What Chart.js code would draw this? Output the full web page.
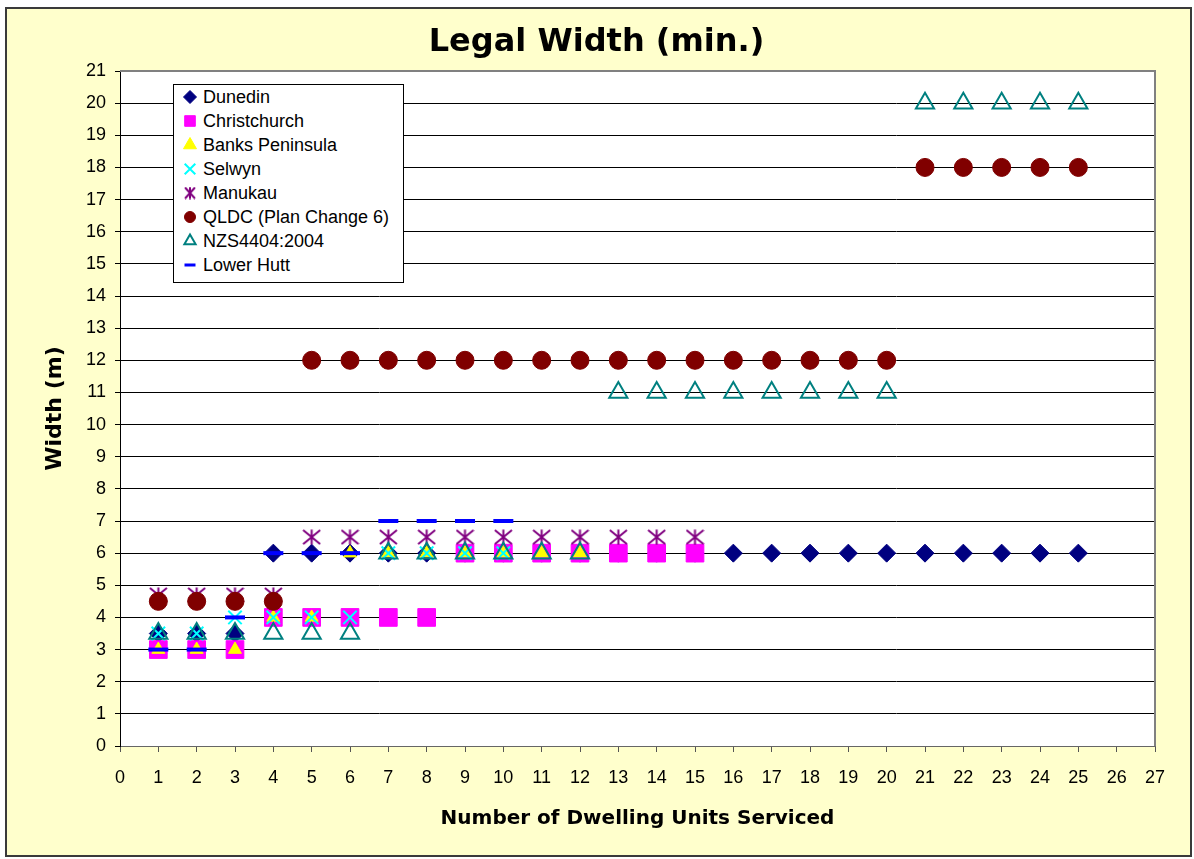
<!DOCTYPE html>
<html>
<head>
<meta charset="utf-8">
<title>Legal Width (min.)</title>
<script src="https://cdn.jsdelivr.net/npm/chart.js@4/dist/chart.umd.min.js"></script>
<style>
html, body { margin: 0; padding: 0; background: #fff; }
#frame { position: absolute; left: 5px; top: 7px; width: 1183px; height: 846px; border: 2px solid #3a3a3a; background: #ffffcc; }
#chart { position: absolute; left: 0; top: 0; }
#legend { position: absolute; left: 173px; top: 84px; width: 229px; height: 197px; background: #fff; border: 1px solid #000;
  font: 18px "Liberation Sans", Arial, sans-serif; color: #000; }
#legend .row { position: relative; height: 24px; line-height: 24px; }
#legend .row canvas { position: absolute; left: 4px; top: 0; }
#legend .row span { position: absolute; left: 29px; top: 0; white-space: nowrap; }
</style>
</head>
<body>
<div id="frame"></div>
<canvas id="chart" width="1194" height="859"></canvas>
<div id="legend"></div>
<script>
// ---- data (x = dwelling units, y = width in m) ----
const units = [1,2,3,4,5,6,7,8,9,10,11,12,13,14,15,16,17,18,19,20,21,22,23,24,25];

const dunedin      = [3.5,3.5,3.5,6,6,6,6,6,6,6,6,6,6,6,6,6,6,6,6,6,6,6,6,6,6];
const christchurch = [3,3,3,4,4,4,4,4,6,6,6,6,6,6,6,null,null,null,null,null,null,null,null,null,null];
const banks        = [3,3,3,4,4,6,6,6,6,6,6,6,null,null,null,null,null,null,null,null,null,null,null,null,null];
const selwyn       = [3.5,3.5,4,4,4,4,6,6,6,6,null,null,null,null,null,null,null,null,null,null,null,null,null,null,null];
const manukau      = [4.7,4.7,4.7,4.7,6.5,6.5,6.5,6.5,6.5,6.5,6.5,6.5,6.5,6.5,6.5,null,null,null,null,null,null,null,null,null,null];
const qldc         = [4.5,4.5,4.5,4.5,12,12,12,12,12,12,12,12,12,12,12,12,12,12,12,12,18,18,18,18,18];
const nzs4404      = [3.5,3.5,3.5,3.5,3.5,3.5,6,6,6,6,6,6,11,11,11,11,11,11,11,11,20,20,20,20,20];
const lowerHutt    = [3,3,4,6,6,6,7,7,7,7,null,null,null,null,null,null,null,null,null,null,null,null,null,null,null];

const xTicksMax = 27;
const yTicksMax = 21;

// asterisk marker (vertical bar + X), Chart.js star has 8 arms so draw our own
function makeAsterisk(w, h, lw, color){
  const c = document.createElement('canvas');
  c.width = w; c.height = h;
  const g = c.getContext('2d');
  g.strokeStyle = color; g.lineWidth = lw;
  g.beginPath();
  g.moveTo(w/2, 0.5); g.lineTo(w/2, h-0.5);
  g.moveTo(1, 1); g.lineTo(w-1, h-1);
  g.moveTo(w-1, 1); g.lineTo(1, h-1);
  g.stroke();
  return c;
}

const series = [
  { label: 'Dunedin', values: dunedin, style: 'rectRot', fill: '#000080', line: '#000080', r: 9, bw: 1, lr: 6.5 },
  { label: 'Christchurch', values: christchurch, style: 'rect', fill: '#ff00ff', line: '#ff00ff', r: 12.5, bw: 1, lr: 7.5 },
  { label: 'Banks Peninsula', values: banks, style: 'triangle', fill: '#ffff00', line: '#ffff00', r: 7.5, bw: 1, lr: 7.5 },
  { label: 'Selwyn', values: selwyn, style: 'crossRot', fill: '#00ffff', line: '#00ffff', r: 9.5, bw: 2, lr: 7.5 },
  { label: 'Manukau', values: manukau, style: makeAsterisk(19, 16, 2, '#800080'), legendStyle: makeAsterisk(12, 13, 2, '#800080'), fill: '#800080', line: '#800080', r: 9, bw: 2, lr: 6 },
  { label: 'QLDC (Plan Change 6)', values: qldc, style: 'circle', fill: '#800000', line: '#800000', r: 9, bw: 1, lr: 5.5 },
  { label: 'NZS4404:2004', values: nzs4404, style: 'triangle', fill: 'rgba(0,0,0,0)', line: '#008080', r: 10.5, bw: 2, lr: 6.5 },
  { label: 'Lower Hutt', values: lowerHutt, style: 'line', fill: '#0000ff', line: '#0000ff', r: 10, bw: 4, lr: 5.5, lbw: 3 }
];

const datasets = series.map((s, i) => ({
  label: s.label,
  data: units.map((u, k) => ({ x: u, y: s.values[k] })).filter(p => p.y !== null),
  pointStyle: s.style,
  pointRadius: s.r,
  pointBorderWidth: s.bw,
  backgroundColor: s.fill,
  borderColor: s.line,
  showLine: false,
  order: series.length - i   // later series drawn on top, like the original
}));

// white plot area + grey frame on top / right
const plotFrame = {
  id: 'plotFrame',
  beforeDraw(chart){
    const { ctx, chartArea: a } = chart;
    ctx.save();
    ctx.fillStyle = '#fff';
    ctx.fillRect(a.left, a.top, a.right - a.left, a.bottom - a.top);
    ctx.restore();
  },
  beforeDatasetsDraw(chart){
    const { ctx, chartArea: a } = chart;
    ctx.save();
    ctx.strokeStyle = '#808080';
    ctx.lineWidth = 2;
    ctx.beginPath();
    ctx.moveTo(a.left, a.top);
    ctx.lineTo(a.right, a.top);
    ctx.lineTo(a.right, a.bottom);
    ctx.stroke();
    ctx.restore();
  }
};

const tickFont = { family: '"Liberation Sans", Arial, sans-serif', size: 18 };
const titleFont = (size) => ({ family: '"DejaVu Sans", sans-serif', size: size, weight: 'bold' });

const chart = new Chart(document.getElementById('chart').getContext('2d'), {
  type: 'scatter',
  data: { datasets },
  plugins: [plotFrame],
  options: {
    responsive: false,
    animation: false,
    layout: { padding: { left: 38, right: 39, top: 0, bottom: 0 } },
    plugins: {
      legend: { display: false },
      tooltip: { enabled: false },
      title: {
        display: true,
        text: 'Legal Width (min.)',
        color: '#000',
        font: titleFont(32),
        padding: { top: 23, bottom: 9.6 }
      }
    },
    scales: {
      x: {
        type: 'linear',
        min: 0,
        max: xTicksMax,
        afterFit(s){ s.height = 113; },
        ticks: { stepSize: 1, color: '#000', font: tickFont, padding: 15, maxRotation: 0, autoSkip: false },
        grid: { drawOnChartArea: false, drawTicks: true, tickLength: 6, tickColor: '#555' },
        border: { color: '#666', width: 1 },
        title: { display: true, text: 'Number of Dwelling Units Serviced', color: '#000', font: titleFont(20), padding: { top: 0, bottom: 28 } }
      },
      y: {
        type: 'linear',
        min: 0,
        max: yTicksMax,
        afterFit(s){ s.width = 82; },
        ticks: { stepSize: 1, color: '#000', font: tickFont, padding: 9, autoSkip: false },
        grid: { color: '#000', lineWidth: 1, tickLength: 5, tickColor: '#000' },
        border: { color: '#000', width: 1 },
        title: { display: true, text: 'Width (m)', color: '#000', font: titleFont(22), padding: { top: 4, bottom: 0 } }
      }
    }
  }
});

// legend box inside the plot, drawn with the same marker routine Chart.js uses
function buildLegend(){
  const box = document.getElementById('legend');
  series.forEach(s => {
    const row = document.createElement('div');
    row.className = 'row';
    const c = document.createElement('canvas');
    c.width = 24; c.height = 24;
    const g = c.getContext('2d');
    g.fillStyle = s.fill; g.strokeStyle = s.line; g.lineWidth = s.lbw || s.bw;
    Chart.helpers.drawPoint(g, { pointStyle: s.legendStyle || s.style, radius: s.lr, borderWidth: s.lbw || s.bw, rotation: 0 }, 12, 12);
    const t = document.createElement('span');
    t.textContent = s.label;
    row.appendChild(c); row.appendChild(t);
    box.appendChild(row);
  });
}
buildLegend();
</script>
</body>
</html>
